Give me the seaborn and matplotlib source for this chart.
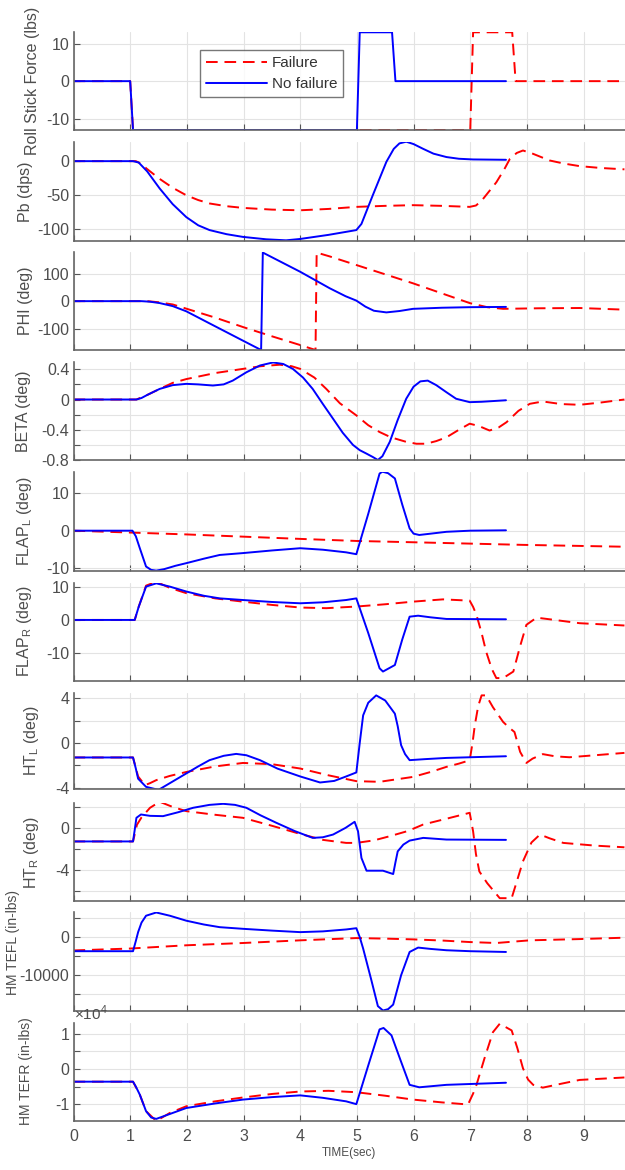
import matplotlib
matplotlib.use("Agg")
import matplotlib.pyplot as plt
import seaborn as sns

# --- time axis ticks ---
time_ticks = [0, 1, 2, 3, 4, 5, 6, 7, 8, 9]

# --- Roll stick force ---
roll_fail_t = [0, 1.0, 1.05, 7.0, 7.05, 7.74, 7.8, 9.72]
roll_fail_v = [0, 0, -13, -13, 13, 13, 0, 0]
roll_ok_t = [0, 1.0, 1.05, 5.0, 5.05, 5.62, 5.68, 7.63]
roll_ok_v = [0, 0, -13, -13, 13, 13, 0, 0]

# --- Pb ---
pb_fail_t = [0, 1.1, 1.2, 1.29, 1.52, 1.75, 1.99, 2.2, 2.4, 2.7, 2.99, 3.5, 4.0, 4.5, 4.99, 5.5, 5.99, 6.5, 6.99,
             7.1, 7.2, 7.46, 7.6, 7.7, 7.82, 7.93, 8.1, 8.4, 8.65, 8.93, 9.3, 9.72]
pb_fail_v = [0, 0, -4, -11, -26, -39, -50, -57, -62, -66, -68.5, -71, -72, -70, -67, -65.5, -64.5, -65.5, -67,
             -65, -58, -31, -12, 3.5, 12, 15.6, 11, 1, -3.5, -7.3, -10, -12]
pb_ok_t = [0, 1.05, 1.15, 1.3, 1.52, 1.75, 1.99, 2.2, 2.4, 2.7, 2.99, 3.4, 3.75, 4.0, 4.5, 4.99, 5.08, 5.28, 5.52,
           5.65, 5.75, 5.87, 6.0, 6.17, 6.35, 6.58, 6.8, 7.05, 7.63]
pb_ok_v = [0, 0, -2, -15, -40, -63, -82, -94, -101, -107, -111, -114.5, -116, -114, -108, -101, -92, -50, -1,
           18, 26, 28.5, 25, 18, 11, 6, 3.5, 2.5, 2]

# --- PHI ---
phi_fail_t = [0, 1.3, 1.5, 1.75, 2.0, 2.5, 3.0, 3.5, 4.0, 4.27, 4.29, 4.52, 5.99, 6.99, 7.3, 7.58, 8.2, 8.93, 9.72]
phi_fail_v = [0, 0, -4, -12, -28, -60, -95, -128, -160, -178, 177, 163, 65, -7, -22, -28, -26, -25, -31]
phi_ok_t = [0, 1.2, 1.35, 1.52, 1.75, 1.99, 2.4, 2.99, 3.31, 3.34, 4.0, 4.52, 4.8, 4.99, 5.15, 5.3, 5.52, 5.75,
            5.99, 6.5, 6.99, 7.63]
phi_ok_v = [0, 0, -2, -7, -18, -37, -81, -144, -178, 177, 107, 47, 18, 2, -20, -35, -41, -36, -28, -24, -22, -21]

# --- BETA ---
beta_fail_t = [0, 1.11, 1.3, 1.52, 1.75, 1.99, 2.5, 2.99, 3.3, 3.64, 3.85, 4.0, 4.25, 4.46, 4.7, 4.99, 5.2, 5.4,
               5.6, 5.87, 6.05, 6.22, 6.4, 6.58, 6.8, 6.99, 7.15, 7.34, 7.5, 7.64, 7.85, 8.05, 8.28, 8.6, 8.93,
               9.3, 9.72]
beta_fail_v = [0, 0, 0.06, 0.14, 0.22, 0.27, 0.35, 0.405, 0.44, 0.46, 0.44, 0.405, 0.29, 0.14, -0.05, -0.21,
               -0.34, -0.43, -0.5, -0.56, -0.585, -0.585, -0.55, -0.5, -0.4, -0.32, -0.35, -0.41, -0.37, -0.3,
               -0.15, -0.057, -0.026, -0.06, -0.07, -0.04, 0.0]
beta_ok_t = [0, 1.11, 1.2, 1.3, 1.52, 1.75, 1.99, 2.2, 2.46, 2.65, 2.81, 3.05, 3.29, 3.52, 3.7, 3.87, 4.05, 4.22,
             4.4, 4.58, 4.75, 4.93, 5.05, 5.17, 5.28, 5.37, 5.45, 5.58, 5.72, 5.87, 6.0, 6.12, 6.25, 6.4, 6.58,
             6.75, 6.99, 7.2, 7.63]
beta_ok_v = [0, 0, 0.02, 0.06, 0.14, 0.19, 0.207, 0.2, 0.185, 0.2, 0.25, 0.36, 0.45, 0.49, 0.47, 0.405, 0.29,
             0.14, -0.06, -0.255, -0.44, -0.6, -0.67, -0.716, -0.76, -0.8, -0.75, -0.56, -0.27, 0.01, 0.17,
             0.24, 0.25, 0.19, 0.096, 0.01, -0.035, -0.03, -0.01]

# --- FLAP L ---
flapl_fail_t = [0, 1.0, 1.99, 4.0, 4.99, 5.99, 7.93, 9.72]
flapl_fail_v = [0, -0.5, -1.0, -2.2, -2.75, -3.1, -3.8, -4.3]
flapl_ok_t = [0, 1.04, 1.1, 1.17, 1.28, 1.37, 1.46, 1.6, 1.8, 1.99, 2.3, 2.58, 2.99, 3.5, 4.0, 4.4, 4.81, 4.99,
              5.2, 5.4, 5.45, 5.55, 5.67, 5.8, 5.93, 6.0, 6.1, 6.3, 6.58, 7.0, 7.63]
flapl_ok_v = [0, 0, -1.5, -4.7, -9.6, -10.5, -10.7, -10.3, -9.4, -8.7, -7.5, -6.5, -6.0, -5.3, -4.7, -5.1, -5.8,
              -6.3, 4.5, 15.3, 15.8, 15.4, 14, 7, 0.6, -0.8, -1.15, -0.8, -0.3, 0, 0.1]

# --- FLAP R ---
flapr_fail_t = [0, 1.08, 1.15, 1.28, 1.46, 1.7, 1.99, 2.5, 2.99, 3.5, 4.0, 4.46, 4.99, 5.5, 5.99, 6.52, 6.99,
                7.05, 7.11, 7.2, 7.28, 7.38, 7.46, 7.58, 7.76, 7.88, 7.99, 8.17, 8.4, 8.93, 9.72]
flapr_fail_v = [0, 0, 4, 10.5, 11.7, 9.8, 8.2, 6.6, 5.6, 4.6, 3.8, 3.6, 4.1, 4.8, 5.6, 6.3, 5.9,
                4, 1.5, -4, -9.7, -15, -17.8, -17.8, -15.8, -8, -1.5, 0.7, 0.2, -1.0, -1.7]
flapr_ok_t = [0, 1.08, 1.15, 1.28, 1.46, 1.7, 1.99, 2.3, 2.58, 2.99, 3.5, 4.0, 4.4, 4.81, 4.99, 5.2, 5.4, 5.46,
              5.67, 5.8, 5.93, 6.08, 6.3, 6.58, 7.63]
flapr_ok_v = [0, 0, 4, 10.2, 11.2, 10.2, 8.7, 7.4, 6.6, 6.1, 5.5, 5.1, 5.4, 6.1, 6.6, -4, -14.8, -15.8,
              -13.8, -6, 1.0, 1.3, 0.8, 0.3, 0.2]

# --- HT L ---
htl_fail_t = [0, 1.05, 1.14, 1.26, 1.35, 1.46, 1.7, 1.99, 2.5, 2.99, 3.5, 4.0, 4.5, 4.99, 5.4, 5.99, 6.3, 6.58,
              6.8, 6.99, 7.04, 7.08, 7.14, 7.2, 7.28, 7.4, 7.58, 7.68, 7.78, 7.88, 7.99, 8.1, 8.28, 8.5, 8.75,
              9.2, 9.72]
htl_fail_v = [-1.3, -1.3, -3.0, -3.78, -3.6, -3.33, -2.95, -2.6, -2.1, -1.79, -1.9, -2.29, -2.9, -3.42, -3.48,
              -3.04, -2.6, -2.14, -1.85, -1.55, 0, 1.58, 3.3, 4.26, 4.26, 3.2, 1.88, 1.4, 0.98, -0.8, -1.79,
              -1.4, -1.0, -1.2, -1.28, -1.1, -0.89]
htl_ok_t = [0, 1.05, 1.1, 1.14, 1.28, 1.5, 1.7, 1.99, 2.2, 2.4, 2.65, 2.87, 3.05, 3.29, 3.6, 4.0, 4.35, 4.6,
            4.81, 4.99, 5.05, 5.11, 5.2, 5.34, 5.5, 5.67, 5.72, 5.78, 5.85, 5.93, 6.2, 6.58, 7.63]
htl_ok_v = [-1.3, -1.3, -2.3, -3.2, -3.93, -4.2, -3.6, -2.73, -2.1, -1.54, -1.15, -0.98, -1.1, -1.54, -2.3,
            -3.0, -3.54, -3.4, -3.0, -2.64, 0, 2.47, 3.6, 4.26, 3.8, 2.62, 1.5, -0.2, -1.0, -1.54, -1.45,
            -1.34, -1.19]

# --- HT R ---
htr_fail_t = [0, 1.05, 1.12, 1.2, 1.35, 1.52, 1.75, 1.99, 2.5, 2.99, 3.5, 4.0, 4.4, 4.81, 4.99, 5.3, 5.58, 5.9,
              6.17, 6.6, 6.99, 7.05, 7.1, 7.16, 7.3, 7.52, 7.73, 7.8, 7.93, 8.08, 8.23, 8.4, 8.64, 9.2, 9.72]
htr_fail_v = [-1.3, -1.3, 0.3, 1.0, 1.92, 2.5, 2.0, 1.6, 1.25, 0.96, 0.2, -0.58, -1.15, -1.44, -1.44, -1.2,
              -0.8, -0.3, 0.32, 0.9, 1.44, -0.33, -2.5, -4.17, -5.3, -6.73, -6.73, -5.5, -3.2, -1.4, -0.64,
              -1.0, -1.44, -1.7, -1.86]
htr_ok_t = [0, 1.05, 1.08, 1.11, 1.19, 1.35, 1.58, 1.85, 2.11, 2.4, 2.64, 2.85, 3.05, 3.3, 3.58, 3.9, 4.22,
            4.4, 4.58, 4.8, 4.96, 5.02, 5.08, 5.17, 5.3, 5.46, 5.64, 5.68, 5.72, 5.82, 5.93, 6.17, 6.58, 7.63]
htr_ok_v = [-1.3, -1.3, -0.2, 0.96, 1.28, 1.15, 1.12, 1.5, 1.92, 2.2, 2.3, 2.2, 1.92, 1.2, 0.48, -0.3, -0.96,
            -0.9, -0.64, 0, 0.58, -0.33, -2.88, -4.1, -4.1, -4.1, -4.42, -3.3, -2.25, -1.6, -1.22, -0.96,
            -1.12, -1.15]

# --- HM TEFL (in-lbs) ---
hml_fail_t = [0, 1.0, 1.99, 2.99, 4.0, 4.99, 5.5, 5.99, 6.5, 6.99, 7.46, 8.05, 8.93, 9.72]
hml_fail_v = [-3500, -3000, -2150, -1550, -850, -260, -400, -600, -900, -1300, -1550, -850, -520, -160]
hml_ok_t = [0, 1.05, 1.1, 1.14, 1.2, 1.28, 1.46, 1.7, 1.99, 2.3, 2.58, 2.99, 3.5, 4.0, 4.4, 4.81, 4.99, 5.05,
            5.11, 5.25, 5.37, 5.46, 5.55, 5.64, 5.78, 5.93, 6.08, 6.3, 6.58, 7.0, 7.63]
hml_ok_v = [-3700, -3700, -1000, 1300, 3800, 5600, 6450, 5600, 4300, 3300, 2600, 2170, 1700, 1300, 1500, 2000,
            2330, 0, -3000, -11000, -18100, -19250, -18900, -17700, -10000, -3900, -2750, -3100, -3450, -3700,
            -3900]

# --- HM TEFR (x 1e4 in-lbs) ---
hmr_fail_t = [0, 1.05, 1.17, 1.28, 1.46, 1.7, 1.99, 2.5, 2.99, 3.5, 4.0, 4.5, 4.99, 5.5, 5.99, 6.5, 6.96, 7.05,
              7.11, 7.25, 7.4, 7.52, 7.73, 7.83, 7.93, 8.02, 8.11, 8.28, 8.6, 8.93, 9.72]
hmr_fail_v = [-0.36, -0.36, -0.73, -1.2, -1.48, -1.25, -1.06, -0.92, -0.81, -0.71, -0.64, -0.62, -0.66, -0.76,
              -0.87, -0.95, -1.01, -0.7, -0.45, 0.3, 1.05, 1.29, 1.1, 0.6, 0.02, -0.3, -0.45, -0.53, -0.42,
              -0.31, -0.24]
hmr_ok_t = [0, 1.05, 1.1, 1.17, 1.28, 1.37, 1.46, 1.7, 1.99, 2.5, 2.99, 3.5, 4.0, 4.4, 4.81, 4.99, 5.2, 5.4,
            5.47, 5.61, 5.77, 5.93, 6.1, 6.58, 7.63]
hmr_ok_v = [-0.36, -0.36, -0.5, -0.73, -1.2, -1.38, -1.42, -1.28, -1.11, -0.98, -0.87, -0.8, -0.75, -0.82,
            -0.92, -1.0, 0.1, 1.13, 1.17, 0.96, 0.25, -0.45, -0.52, -0.45, -0.39]

# --- y labels / ticks per panel ---
ylabels = ["Roll Stick Force (lbs)", "Pb (dps)", "PHI (deg)", "BETA (deg)",
           "FLAP$_\\mathregular{L}$ (deg)", "FLAP$_\\mathregular{R}$ (deg)",
           "HT$_\\mathregular{L}$ (deg)", "HT$_\\mathregular{R}$ (deg)",
           "HM TEFL (in-lbs)", "HM TEFR (in-lbs)"]
yticks = [[-10, 0, 10], [-100, -50, 0], [-100, 0, 100],
          [-0.8, -0.6, -0.4, -0.2, 0, 0.2, 0.4], [-10, 0, 10], [-10, 0, 10],
          [-4, -2, 0, 2, 4], [-6, -4, -2, 0, 2],
          [-15000, -10000, -5000, 0, 5000], [-1, -0.5, 0, 0.5, 1]]
ytick_labels = [["-10", "0", "10"], ["-100", "-50", "0"], ["-100", "0", "100"],
                ["-0.8", "", "-0.4", "", "0", "", "0.4"], ["-10", "0", "10"], ["-10", "0", "10"],
                ["-4", "", "0", "", "4"], ["", "-4", "", "0", ""],
                ["", "-10000", "", "0", ""], ["-1", "", "0", "", "1"]]
ylims = [(-13, 13), (-117, 28.5), (-178, 178), (-0.8, 0.5), (-10.8, 15.8),
         (-18.6, 11.4), (-4.15, 4.5), (-7, 2.35), (-19300, 6500), (-1.48, 1.32)]

fail_series = [(roll_fail_t, roll_fail_v), (pb_fail_t, pb_fail_v), (phi_fail_t, phi_fail_v),
               (beta_fail_t, beta_fail_v), (flapl_fail_t, flapl_fail_v), (flapr_fail_t, flapr_fail_v),
               (htl_fail_t, htl_fail_v), (htr_fail_t, htr_fail_v), (hml_fail_t, hml_fail_v),
               (hmr_fail_t, hmr_fail_v)]
ok_series = [(roll_ok_t, roll_ok_v), (pb_ok_t, pb_ok_v), (phi_ok_t, phi_ok_v),
             (beta_ok_t, beta_ok_v), (flapl_ok_t, flapl_ok_v), (flapr_ok_t, flapr_ok_v),
             (htl_ok_t, htl_ok_v), (htr_ok_t, htr_ok_v), (hml_ok_t, hml_ok_v),
             (hmr_ok_t, hmr_ok_v)]

sns.set_theme(style="ticks")
plt.rcParams["font.family"] = ["Liberation Sans", "DejaVu Sans"]
plt.rcParams["mathtext.fontset"] = "custom"
plt.rcParams["mathtext.rm"] = "Liberation Sans"

fig = plt.figure(figsize=(6.25, 11.7), dpi=100)
W, H = 625.0, 1170.0
left_px = 73.5
tops_px = [32.3, 141.7, 252.3, 361.7, 471.7, 582.7, 692.7, 803.3, 912.3, 1022.7]
bots_px = [130, 241, 350, 460, 571, 680.7, 789.3, 901, 1010.7, 1121]
# y label: right edge (px from figure left), vertical centre (axes fraction), font size
label_x_px = [40, 33, 33, 31, 34, 34, 41, 41, 20, 33]
label_y = [0.5, 0.5, 0.5, 0.5, 0.5, 0.5, 0.5, 0.5, 0.69, 0.51]
label_fs = [11.5] * 8 + [10, 10]
txt = "#4d4d4d"
axes = []
for i in range(10):
    ax = fig.add_axes([left_px / W, 1 - bots_px[i] / H, 1 - left_px / W, (bots_px[i] - tops_px[i]) / H])
    axes.append(ax)
    ft, fv = fail_series[i]
    ot, ov = ok_series[i]
    sns.lineplot(x=ft, y=fv, ax=ax, color="#ff0000", lw=1.4, sort=False,
                 estimator=None, label="Failure" if i == 0 else None)
    ax.lines[-1].set_dashes((6, 3.5))
    sns.lineplot(x=ot, y=ov, ax=ax, color="#0000ff", lw=1.4, sort=False,
                 estimator=None, label="No failure" if i == 0 else None)
    ax.set_xlim(0, 9.73)
    ax.set_ylim(*ylims[i])
    ax.set_xticks(time_ticks)
    ax.set_yticks(yticks[i])
    ax.set_yticklabels(ytick_labels[i])
    if i < 9:
        ax.set_xticklabels([])
    ax.grid(True, color="#e3e3e3", lw=0.8)
    ax.set_axisbelow(True)
    for s in ["top", "right"]:
        ax.spines[s].set_visible(False)
    for s in ["left", "bottom"]:
        ax.spines[s].set_color("#666666")
        ax.spines[s].set_linewidth(1.2)
    ax.tick_params(direction="in", length=4, width=0.8, color="#555555",
                   labelsize=11.5, labelcolor=txt, pad=3)
    ax.tick_params(axis="x", pad=6)
    ax.set_ylabel(ylabels[i], fontsize=label_fs[i], color=txt)
    ax.yaxis.set_label_coords((label_x_px[i] - left_px) / (W - left_px), label_y[i])
    ax.set_xlabel("")

leg = axes[0].legend(loc="upper left", bbox_to_anchor=(0.229, 0.82), fontsize=11,
                     handlelength=4, frameon=True, fancybox=False, borderpad=0.4,
                     labelspacing=0.45, handletextpad=0.3, borderaxespad=0)
leg.get_frame().set_edgecolor("#555555")
leg.get_frame().set_linewidth(1.0)
for t in leg.get_texts():
    t.set_color("#333333")

axes[9].text(0.0, 1.0, r"$\times$10$^{4}$", transform=axes[9].transAxes,
             ha="left", va="bottom", fontsize=11, color=txt)
axes[9].set_xlabel("TIME(sec)", fontsize=8.5, color=txt, labelpad=2)

fig.savefig("out.png", dpi=100)
